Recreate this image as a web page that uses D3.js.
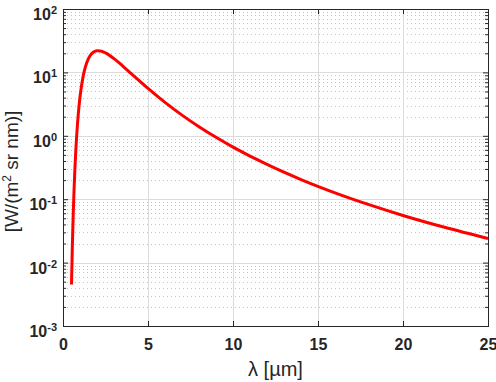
<!DOCTYPE html>
<html>
<head>
<meta charset="utf-8">
<script src="https://cdn.jsdelivr.net/npm/d3@7"></script>
<style>
  body { margin: 0; background: #fff; }
  svg { display: block; font-family: Arial, "Liberation Sans", Helvetica, sans-serif; }
</style>
</head>
<body>
<div id="chart"></div>
<script>
// wavelength [µm] and spectral radiance [W/(m² sr nm)]
const lambdaUm = [0.5, 0.55, 0.6, 0.65, 0.7, 0.75, 0.8, 0.9, 1.0, 1.2, 1.4, 1.6, 1.8, 2.0, 2.2, 2.5,
                  3, 3.5, 4, 5, 6, 7, 8, 9, 10, 12, 14, 16, 18, 20, 22.5, 25];
const radiance = [0.00451, 0.0182, 0.0558, 0.140, 0.298, 0.562, 0.958, 2.216, 4.099, 9.13, 14.37, 18.47, 20.96, 21.96, 21.84, 20.33,
                  16.48, 12.71, 9.65, 5.60, 3.37, 2.121, 1.391, 0.946, 0.664, 0.353, 0.204, 0.126, 0.0819, 0.0554, 0.0357, 0.0240];

const xTicks = [0, 5, 10, 15, 20, 25];
const yTickExp = [-3, -2, -1, 0, 1, 2];

const W = 496, H = 382;
const margin = { top: 9, right: 8, bottom: 56, left: 63 };
const width = W - margin.left - margin.right;
const height = H - margin.top - margin.bottom;

const data = lambdaUm.map((l, i) => ({ l, v: radiance[i] }));

const svg = d3.select("#chart").append("svg")
    .attr("width", W)
    .attr("height", H);

const g = svg.append("g")
    .attr("transform", `translate(${margin.left},${margin.top})`);

const x = d3.scaleLinear().domain([0, 25]).range([0, width]);
const y = d3.scaleLog().domain([1e-3, 1e2]).range([height, 0]);

const majorY = yTickExp.map(e => Math.pow(10, e));
const minorY = [];
yTickExp.slice(0, -1).forEach(e => {
    for (let k = 2; k <= 9; k++) minorY.push(k * Math.pow(10, e));
});

// minor grid (dotted)
g.append("g").selectAll("line")
    .data(minorY)
    .enter().append("line")
    .attr("x1", 0).attr("x2", width)
    .attr("y1", d => Math.round(y(d)) + 0.5)
    .attr("y2", d => Math.round(y(d)) + 0.5)
    .attr("stroke", "#c4c4c4")
    .attr("stroke-dasharray", "1,3");

// major grid
g.append("g").selectAll("line")
    .data(majorY.slice(1, -1))
    .enter().append("line")
    .attr("x1", 0).attr("x2", width)
    .attr("y1", d => Math.round(y(d)) + 0.5)
    .attr("y2", d => Math.round(y(d)) + 0.5)
    .attr("stroke", "#dcdcdc");

g.append("g").selectAll("line")
    .data(xTicks.slice(1, -1))
    .enter().append("line")
    .attr("y1", 0).attr("y2", height)
    .attr("x1", d => Math.round(x(d)) + 0.5)
    .attr("x2", d => Math.round(x(d)) + 0.5)
    .attr("stroke", "#dcdcdc");

// curve
const line = d3.line()
    .x(d => x(d.l))
    .y(d => y(d.v))
    .curve(d3.curveMonotoneX);

g.append("path")
    .datum(data)
    .attr("d", line)
    .attr("fill", "none")
    .attr("stroke", "#ff0000")
    .attr("stroke-width", 3)
    .attr("stroke-linejoin", "round");

// axes (ticks inward, box)
const axisColor = "#262626";

function styleAxis(sel) {
    sel.select(".domain").remove();
    sel.selectAll(".tick line").attr("stroke", axisColor);
}

const xb = g.append("g")
    .attr("transform", `translate(0,${height})`)
    .call(d3.axisBottom(x).tickValues(xTicks).tickSize(-5).tickPadding(13));
styleAxis(xb);
xb.selectAll(".tick text")
    .attr("fill", axisColor)
    .style("font-size", "16px")
    .style("font-weight", "bold");

g.append("g")
    .call(d3.axisTop(x).tickValues(xTicks).tickSize(-5).tickFormat(""))
    .call(styleAxis);

const yl = g.append("g")
    .call(d3.axisLeft(y).tickValues(majorY).tickSize(-5).tickFormat(""))
    .call(styleAxis);
g.append("g")
    .call(d3.axisLeft(y).tickValues(minorY).tickSize(-3).tickFormat(""))
    .call(styleAxis);
g.append("g")
    .attr("transform", `translate(${width},0)`)
    .call(d3.axisRight(y).tickValues(majorY).tickSize(-5).tickFormat(""))
    .call(styleAxis);
g.append("g")
    .attr("transform", `translate(${width},0)`)
    .call(d3.axisRight(y).tickValues(minorY).tickSize(-3).tickFormat(""))
    .call(styleAxis);

// y tick labels as 10^n
yl.selectAll(".tick text").each(function (d) {
    const t = d3.select(this);
    const e = Math.round(Math.log10(d));
    t.text(null)
        .attr("x", -6)
        .attr("dy", null)
        .attr("y", 10.5)
        .attr("text-anchor", "end")
        .attr("fill", axisColor)
        .style("font-size", "16px")
        .style("font-weight", "bold");
    t.append("tspan").text("10");
    t.append("tspan").style("font-size", "11px").attr("dy", -6).text(e);
});

// box
g.append("rect")
    .attr("x", 0.5).attr("y", 0.5)
    .attr("width", width).attr("height", height)
    .attr("fill", "none")
    .attr("stroke", axisColor)
    .attr("stroke-width", 1);

// axis labels
svg.append("text")
    .attr("x", margin.left + width / 2)
    .attr("y", 376)
    .attr("text-anchor", "middle")
    .attr("fill", axisColor)
    .style("font-size", "20px")
    .text("λ [µm]");

const ylab = svg.append("text")
    .attr("transform", `translate(18,${margin.top + height / 2 + 4}) rotate(-90)`)
    .attr("text-anchor", "middle")
    .attr("fill", axisColor)
    .style("font-size", "19px");
ylab.append("tspan").text("[W/(m");
ylab.append("tspan").attr("dy", -7).style("font-size", "12px").text("2");
ylab.append("tspan").attr("dy", 7).text(" sr nm)]");
</script>
</body>
</html>
